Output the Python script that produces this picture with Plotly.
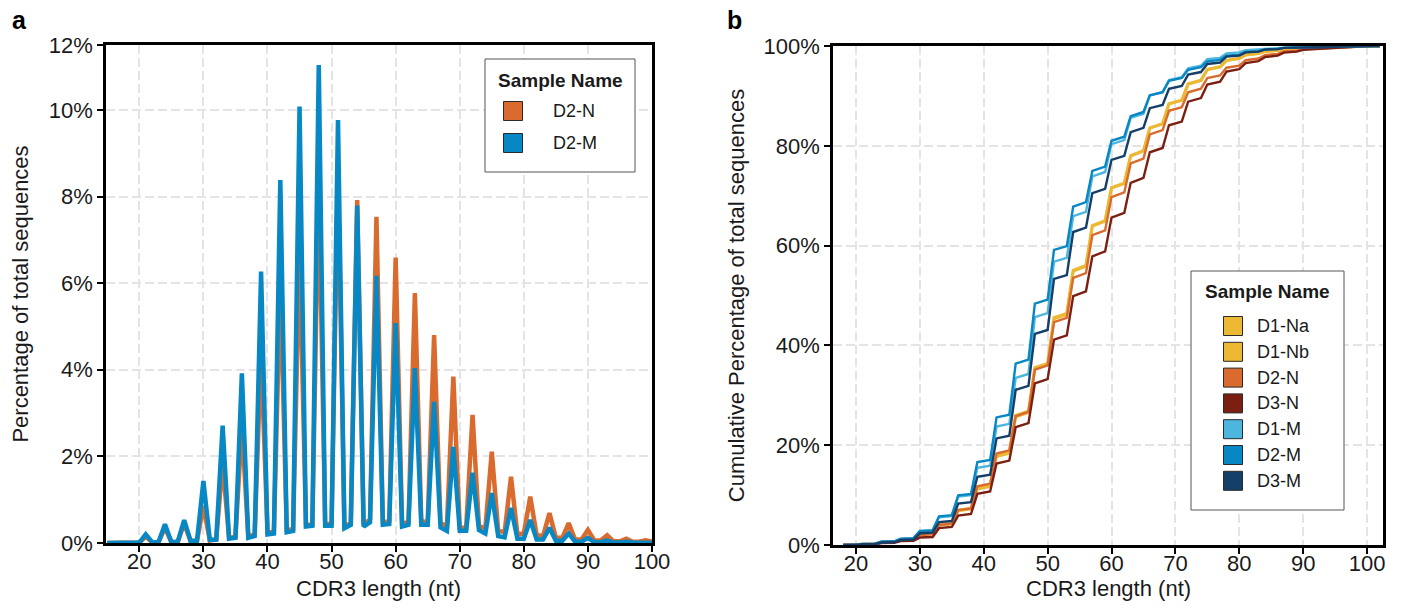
import numpy as np
import plotly.graph_objects as go

# CDR3 lengths (nt)
lengths = list(range(15, 103))

# Percentage of total sequences per CDR3 length (15..102)
d1_na = [0, 0, 0, 0, 0, 0.01,
         0.16, 0.02, 0.02, 0.36, 0.02, 0.03, 0.48, 0.04, 0.05, 0.98, 0.06, 0.08, 1.74, 0.12, 0.14,
         2.65, 0.15, 0.20, 4.10, 0.25, 0.25, 6.08, 0.30, 0.32, 7.36, 0.42, 0.42, 8.73, 0.42, 0.45,
         9.15, 0.40, 0.45, 8.63, 0.42, 0.55, 8.02, 0.48, 0.50, 6.60, 0.45, 0.48, 5.50, 0.48, 0.50,
         4.60, 0.45, 0.40, 4.00, 0.35, 0.35, 3.27, 0.38, 0.35, 2.17, 0.28, 0.25, 1.28, 0.20, 0.22,
         0.66, 0.18, 0.16, 0.36, 0.12, 0.12, 0.24, 0.08, 0.08, 0.08, 0.06, 0.06, 0.04, 0.04, 0.04,
         0.03, 0.03, 0.03, 0.02, 0.02, 0.01, 0.01]
d1_nb = [0, 0, 0, 0, 0, 0.01,
         0.15, 0.02, 0.02, 0.35, 0.02, 0.03, 0.47, 0.04, 0.05, 0.95, 0.06, 0.08, 1.70, 0.12, 0.14,
         2.60, 0.15, 0.20, 4.00, 0.25, 0.25, 6.00, 0.30, 0.32, 7.30, 0.42, 0.42, 8.70, 0.42, 0.45,
         9.20, 0.40, 0.45, 8.70, 0.42, 0.55, 8.05, 0.48, 0.50, 6.65, 0.45, 0.48, 5.50, 0.48, 0.50,
         4.60, 0.45, 0.40, 4.00, 0.35, 0.35, 3.25, 0.38, 0.35, 2.15, 0.28, 0.25, 1.30, 0.20, 0.22,
         0.68, 0.18, 0.16, 0.37, 0.12, 0.12, 0.24, 0.08, 0.08, 0.09, 0.06, 0.06, 0.04, 0.04, 0.04,
         0.03, 0.03, 0.03, 0.02, 0.02, 0.01, 0.01]
d2_n = [0, 0, 0, 0, 0, 0.01,
        0.15, 0.02, 0.02, 0.35, 0.02, 0.03, 0.45, 0.04, 0.05, 0.85, 0.06, 0.08, 1.85, 0.12, 0.14,
        2.70, 0.15, 0.20, 4.40, 0.25, 0.25, 6.00, 0.30, 0.32, 6.80, 0.42, 0.42, 8.40, 0.42, 0.45,
        8.60, 0.40, 0.45, 7.92, 0.42, 0.55, 7.53, 0.48, 0.50, 6.59, 0.45, 0.48, 5.77, 0.48, 0.50,
        4.80, 0.45, 0.40, 3.84, 0.35, 0.35, 2.96, 0.38, 0.35, 2.11, 0.28, 0.25, 1.53, 0.20, 0.22,
        1.07, 0.18, 0.16, 0.69, 0.12, 0.12, 0.46, 0.08, 0.08, 0.30, 0.06, 0.06, 0.18, 0.04, 0.04,
        0.10, 0.03, 0.03, 0.06, 0.02, 0.01, 0.01]
d3_n = [0, 0, 0, 0, 0, 0.0,
        0.10, 0.02, 0.02, 0.25, 0.02, 0.02, 0.35, 0.04, 0.04, 0.63, 0.05, 0.07, 1.76, 0.11, 0.13,
        2.27, 0.15, 0.18, 4.02, 0.24, 0.24, 5.60, 0.30, 0.30, 6.68, 0.41, 0.41, 7.95, 0.42, 0.45,
        7.90, 0.40, 0.45, 7.86, 0.42, 0.55, 7.02, 0.48, 0.50, 6.77, 0.45, 0.48, 6.02, 0.48, 0.50,
        5.15, 0.45, 0.40, 4.55, 0.38, 0.37, 3.97, 0.38, 0.35, 2.70, 0.30, 0.30, 2.00, 0.25, 0.25,
        1.20, 0.20, 0.20, 0.80, 0.15, 0.15, 0.60, 0.10, 0.10, 0.35, 0.08, 0.07, 0.20, 0.05, 0.05,
        0.12, 0.04, 0.04, 0.08, 0.02, 0.02, 0.01]
d1_m = [0, 0, 0, 0, 0, 0.01,
        0.18, 0.02, 0.02, 0.35, 0.02, 0.03, 0.55, 0.05, 0.05, 1.40, 0.07, 0.08, 2.75, 0.10, 0.12,
        3.92, 0.12, 0.16, 5.48, 0.20, 0.22, 7.87, 0.25, 0.28, 9.22, 0.38, 0.40, 11.40, 0.40, 0.40,
        10.34, 0.34, 0.42, 8.34, 0.38, 0.48, 7.14, 0.42, 0.44, 5.60, 0.38, 0.42, 4.46, 0.42, 0.42,
        3.66, 0.36, 0.28, 2.44, 0.28, 0.28, 1.78, 0.30, 0.22, 1.31, 0.16, 0.13, 0.90, 0.10, 0.10,
        0.44, 0.08, 0.08, 0.20, 0.05, 0.05, 0.12, 0.03, 0.03, 0.05, 0.02, 0.02, 0.03, 0.01, 0.01,
        0.02, 0.01, 0.01, 0.01, 0.0, 0.0, 0.0]
d2_m = [0, 0, 0, 0, 0, 0.01,
        0.20, 0.02, 0.02, 0.43, 0.02, 0.03, 0.53, 0.05, 0.05, 1.43, 0.07, 0.08, 2.71, 0.10, 0.12,
        3.92, 0.12, 0.16, 6.27, 0.20, 0.22, 8.38, 0.25, 0.28, 10.08, 0.38, 0.40, 11.04, 0.40, 0.40,
        9.77, 0.34, 0.42, 7.79, 0.38, 0.48, 6.17, 0.42, 0.44, 5.08, 0.38, 0.42, 4.04, 0.42, 0.42,
        3.26, 0.36, 0.28, 2.22, 0.28, 0.28, 1.62, 0.30, 0.22, 1.15, 0.16, 0.13, 0.81, 0.10, 0.10,
        0.53, 0.08, 0.08, 0.35, 0.05, 0.05, 0.22, 0.03, 0.03, 0.12, 0.02, 0.02, 0.06, 0.01, 0.01,
        0.03, 0.01, 0.01, 0.01, 0.0, 0.0, 0.0]
d3_m = [0, 0, 0, 0, 0, 0.01,
        0.15, 0.02, 0.02, 0.30, 0.02, 0.03, 0.45, 0.05, 0.05, 1.25, 0.07, 0.08, 2.08, 0.10, 0.12,
        3.52, 0.12, 0.16, 5.08, 0.20, 0.22, 7.27, 0.25, 0.28, 9.22, 0.38, 0.40, 10.40, 0.40, 0.40,
        10.24, 0.34, 0.42, 8.64, 0.38, 0.48, 6.94, 0.42, 0.44, 5.80, 0.38, 0.42, 4.76, 0.42, 0.42,
        3.96, 0.36, 0.28, 3.24, 0.28, 0.28, 2.28, 0.30, 0.22, 1.61, 0.16, 0.13, 1.20, 0.10, 0.10,
        0.64, 0.08, 0.08, 0.40, 0.05, 0.05, 0.24, 0.03, 0.03, 0.11, 0.02, 0.02, 0.06, 0.01, 0.01,
        0.05, 0.01, 0.01, 0.02, 0.0, 0.0, 0.0]

panel_a_names = ["D2-N", "D2-M"]
panel_b_names = ["D1-Na", "D1-Nb", "D2-N", "D3-N", "D1-M", "D2-M", "D3-M"]
series = {"D1-Na": d1_na, "D1-Nb": d1_nb, "D2-N": d2_n, "D3-N": d3_n,
          "D1-M": d1_m, "D2-M": d2_m, "D3-M": d3_m}
colors = {"D1-Na": "#EDB834", "D1-Nb": "#EDB834", "D2-N": "#D96B2E", "D3-N": "#7B1F13",
          "D1-M": "#4DB6DF", "D2-M": "#0788C4", "D3-M": "#153F68"}
widths_b = {"D1-Na": 3.2, "D1-Nb": 2.4, "D2-N": 2.4, "D3-N": 2.4,
            "D1-M": 2.4, "D2-M": 2.4, "D3-M": 2.4}

a_xticks = [20, 30, 40, 50, 60, 70, 80, 90, 100]
a_yticks = [0, 2, 4, 6, 8, 10, 11.5]
a_yticktext = ["0%", "2%", "4%", "6%", "8%", "10%", "12%"]
b_xticks = [20, 30, 40, 50, 60, 70, 80, 90, 100]
b_yticks = [0, 20, 40, 60, 80, 100]
b_yticktext = ["0%", "20%", "40%", "60%", "80%", "100%"]

x_title = "CDR3 length (nt)"
a_ytitle = "Percentage of total sequences"
b_ytitle = "Cumulative Percentage of total sequences"

for v in series.values():
    assert len(v) == len(lengths)

W, H = 1407, 613
FONT = "Liberation Sans, Arial, Helvetica, sans-serif"
TXT = "#1a1a1a"


def px(x):
    return x / W


def py(y):
    return 1 - y / H


fig = go.Figure()

# Panel a: distribution
for name in panel_a_names:
    fig.add_trace(go.Scatter(x=lengths, y=series[name], mode="lines", name=name,
                             line=dict(color=colors[name], width=4.5),
                             showlegend=False, hoverinfo="skip",
                             xaxis="x", yaxis="y"))

# Panel b: cumulative
L = np.array(lengths)
for name in panel_b_names:
    vals = np.array(series[name], dtype=float)
    cum = np.cumsum(vals) / vals.sum() * 100
    mask = L >= 18
    fig.add_trace(go.Scatter(x=L[mask], y=cum[mask], mode="lines", name=name,
                             line=dict(color=colors[name], width=widths_b[name]),
                             showlegend=False, hoverinfo="skip",
                             xaxis="x2", yaxis="y2"))

axis_common = dict(showline=True, linecolor="black", linewidth=2.5, mirror=True,
                   ticks="outside", ticklen=6, tickwidth=2, tickcolor="black",
                   showgrid=True, gridcolor="#E4E4E8", gridwidth=2, griddash="9px,4px",
                   zeroline=False, automargin=False,
                   tickfont=dict(family=FONT, size=22, color=TXT))
title_font = dict(family=FONT, size=22, color=TXT)

shapes = []
annotations = [
    dict(text="<b>a</b>", x=px(10), y=py(4), xref="paper", yref="paper",
         xanchor="left", yanchor="top", showarrow=False,
         font=dict(family=FONT, size=25, color="black")),
    dict(text="<b>b</b>", x=px(725), y=py(4), xref="paper", yref="paper",
         xanchor="left", yanchor="top", showarrow=False,
         font=dict(family=FONT, size=25, color="black")),
    # x-axis titles
    dict(text=x_title, x=px(379), y=py(588), xref="paper", yref="paper",
         xanchor="center", yanchor="middle", showarrow=False, font=title_font),
    dict(text=x_title, x=px(1108), y=py(588), xref="paper", yref="paper",
         xanchor="center", yanchor="middle", showarrow=False, font=title_font),
]


def add_legend(names, box, title_y, first_y, step, sw_x, sw_size, text_x):
    x0, y0, x1, y1 = box
    shapes.append(dict(type="rect", xref="paper", yref="paper",
                       x0=px(x0), x1=px(x1), y0=py(y1), y1=py(y0),
                       line=dict(color="#555555", width=1), fillcolor="white", layer="above"))
    annotations.append(dict(text="<b>Sample Name</b>", x=px((x0 + x1) / 2), y=py(title_y),
                            xref="paper", yref="paper", xanchor="center", yanchor="middle",
                            showarrow=False, font=dict(family=FONT, size=19, color=TXT)))
    for i, name in enumerate(names):
        cy = first_y + i * step
        h = sw_size / 2
        shapes.append(dict(type="rect", xref="paper", yref="paper",
                           x0=px(sw_x - h), x1=px(sw_x + h), y0=py(cy + h), y1=py(cy - h),
                           line=dict(color="#2a2a2a", width=1), fillcolor=colors[name],
                           layer="above"))
        annotations.append(dict(text=name, x=px(text_x), y=py(cy), xref="paper", yref="paper",
                                xanchor="left", yanchor="middle", showarrow=False,
                                font=dict(family=FONT, size=18, color=TXT)))


add_legend(panel_a_names, (485, 59, 635, 172), 80, 111, 32, 513, 19, 551)
add_legend(panel_b_names, (1191, 271, 1344, 510), 291, 326, 25.8, 1233, 19, 1255)

fig.update_layout(
    template="none",
    width=W, height=H,
    margin=dict(l=0, r=0, t=0, b=0),
    paper_bgcolor="white", plot_bgcolor="white",
    font=dict(family=FONT, color=TXT, size=18),
    showlegend=False,
    xaxis=dict(axis_common, domain=[106 / W, 652 / W], range=[14.8, 100],
               tickvals=a_xticks, anchor="y", ticklabelstandoff=-9),
    yaxis=dict(axis_common, domain=[70 / H, 568 / H], range=[0, 11.5],
               tickvals=a_yticks, ticktext=a_yticktext, anchor="x",
               title=dict(text=a_ytitle, font=title_font, standoff=15)),
    xaxis2=dict(axis_common, domain=[833 / W, 1383 / W], range=[16.4, 102.5],
                tickvals=b_xticks, anchor="y2", ticklabelstandoff=-9),
    yaxis2=dict(axis_common, domain=[68 / H, 567 / H], range=[0, 100],
                tickvals=b_yticks, ticktext=b_yticktext, anchor="x2",
                title=dict(text=b_ytitle, font=title_font, standoff=13)),
    shapes=shapes,
    annotations=annotations,
)

fig.write_html("out.html", config={"displayModeBar": False},
               post_script="document.body.style.margin='0px';")
